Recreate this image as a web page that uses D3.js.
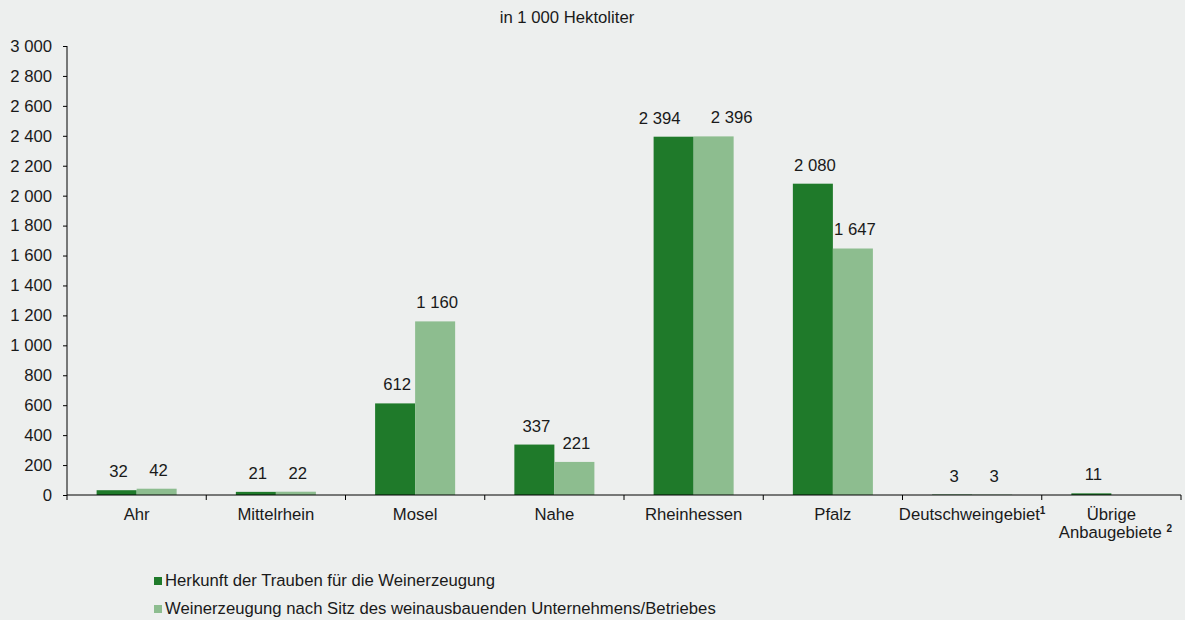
<!DOCTYPE html>
<html>
<head>
<meta charset="utf-8">
<script src="https://cdn.jsdelivr.net/npm/d3@7"></script>
<style>
  body { margin: 0; background: #edefee; }
  svg { display: block; font-family: "Liberation Sans", Arial, sans-serif; }
  .axis text { font-size: 16.7px; fill: #1a1a1a; }
  .axis path, .axis line { stroke: #000; }
</style>
</head>
<body>
<div class="bar-chart"></div>
<script>
// data
const regions = ["Ahr", "Mittelrhein", "Mosel", "Nahe", "Rheinhessen", "Pfalz", "Deutschweingebiet", "Übrige Anbaugebiete"];
const herkunft = [32, 21, 612, 337, 2394, 2080, 3, 11];
const sitz = [42, 22, 1160, 221, 2396, 1647, 3, null];
const seriesNames = ["Herkunft der Trauben für die Weinerzeugung", "Weinerzeugung nach Sitz des weinausbauenden Unternehmens/Betriebes"];
const yTicks = [0, 200, 400, 600, 800, 1000, 1200, 1400, 1600, 1800, 2000, 2200, 2400, 2600, 2800, 3000];

const colors = ["#1f7a2a", "#8dbd8f"];
const seriesKeys = ["herkunft", "sitz"];
const fontSize = 16.7;

const rows = regions.map((r, i) => ({region: r, herkunft: herkunft[i], sitz: sitz[i]}));

const width = 1185, height = 620;
const margin = ({top: 46, right: 4, bottom: 125, left: 67});

const locale = d3.formatLocale({decimal: ",", thousands: " ", grouping: [3], currency: ["", " €"]});
const fmt = locale.format(",d");

const svg = d3.select(".bar-chart")
    .append("svg")
    .attr("width", width)
    .attr("height", height);

const xScale = d3.scaleBand()
    .domain(regions)
    .range([margin.left, width - margin.right])
    .padding(0);

const xSub = d3.scaleBand()
    .domain(seriesKeys)
    .range([0, xScale.bandwidth()])
    .paddingInner(0)
    .paddingOuter(0.74);

const yScale = d3.scaleLinear()
    .domain([0, 3000])
    .range([height - margin.bottom, margin.top]);

// title
svg.append("text")
    .attr("x", 567)
    .attr("y", 23)
    .attr("text-anchor", "middle")
    .attr("font-size", fontSize)
    .attr("fill", "#1a1a1a")
    .text("in 1 000 Hektoliter");

// bars
const groups = svg.selectAll("g.region")
    .data(rows)
    .enter()
    .append("g")
    .attr("class", "region")
    .attr("transform", d => `translate(${xScale(d.region)},0)`);

// push labels apart when both are wide and at about the same height
function spread(d, key) {
    if (d.herkunft == null || d.sitz == null) return 0;
    const close = Math.abs(yScale(d.herkunft) - yScale(d.sitz)) < 20;
    const wide = d.herkunft >= 1000 && d.sitz >= 1000;
    if (!(close && wide)) return 0;
    return key === "herkunft" ? -16 : 16;
}

seriesKeys.forEach((key, k) => {
    groups.filter(d => d[key] != null)
        .append("rect")
        .attr("x", xSub(key))
        .attr("width", xSub.bandwidth())
        .attr("y", d => yScale(d[key]))
        .attr("height", d => yScale(0) - yScale(d[key]))
        .attr("fill", colors[k]);

    groups.filter(d => d[key] != null)
        .append("text")
        .attr("x", d => xSub(key) + xSub.bandwidth() / 2 + 2 + spread(d, key))
        .attr("y", d => yScale(d[key]) - 13)
        .attr("text-anchor", "middle")
        .attr("font-size", fontSize)
        .attr("fill", "#1a1a1a")
        .text(d => fmt(d[key]));
});

// y axis
const yAxis = d3.axisLeft(yScale)
    .tickValues(yTicks)
    .tickSize(4)
    .tickPadding(11)
    .tickFormat(fmt);

svg.append("g")
    .attr("class", "axis y-axis")
    .attr("transform", `translate(${margin.left},0)`)
    .call(yAxis)
    .call(g => g.select(".domain").attr("d", `M0,${yScale(3000)}V${yScale(0)}`));

// x axis: ticks on the category boundaries
const bounds = regions.map(r => xScale(r)).concat([xScale(regions[regions.length - 1]) + xScale.bandwidth()]);
const xAxisGroup = svg.append("g")
    .attr("class", "axis x-axis")
    .attr("transform", `translate(0,${yScale(0)})`);

xAxisGroup.append("line")
    .attr("x1", margin.left).attr("x2", bounds[bounds.length - 1])
    .attr("stroke", "#000");

xAxisGroup.selectAll(".bound")
    .data(bounds)
    .enter()
    .append("line")
    .attr("class", "bound")
    .attr("x1", d => d).attr("x2", d => d)
    .attr("y1", 0).attr("y2", 5)
    .attr("stroke", "#000");

// category labels
const labels = xAxisGroup.selectAll(".cat")
    .data(regions)
    .enter()
    .append("text")
    .attr("class", "cat")
    .attr("x", d => xScale(d) + xScale.bandwidth() / 2)
    .attr("y", 25)
    .attr("text-anchor", "middle");

labels.each(function(d) {
    const t = d3.select(this);
    const cx = xScale(d) + xScale.bandwidth() / 2;
    if (d === "Deutschweingebiet") {
        t.append("tspan").text("Deutschweingebiet");
        t.append("tspan").attr("font-size", 10).attr("font-weight", "bold").attr("dy", -6).text("1");
    } else if (d === "Übrige Anbaugebiete") {
        t.append("tspan").attr("x", cx).text("Übrige");
        t.append("tspan").attr("x", cx + 4).attr("dy", 18).text("Anbaugebiete ");
        t.append("tspan").attr("font-size", 10).attr("font-weight", "bold").attr("dy", -6).text("2");
    } else {
        t.text(d);
    }
});

// legend
const legend = svg.selectAll(".legend")
    .data(seriesNames)
    .enter()
    .append("g")
    .attr("class", "legend")
    .attr("transform", (d, i) => `translate(154,${577 + i * 28})`);

legend.append("rect")
    .attr("width", 8)
    .attr("height", 8)
    .attr("fill", (d, i) => colors[i]);

legend.append("text")
    .attr("x", 11)
    .attr("y", 9)
    .attr("font-size", fontSize)
    .attr("fill", "#1a1a1a")
    .text(d => d);
</script>
</body>
</html>
